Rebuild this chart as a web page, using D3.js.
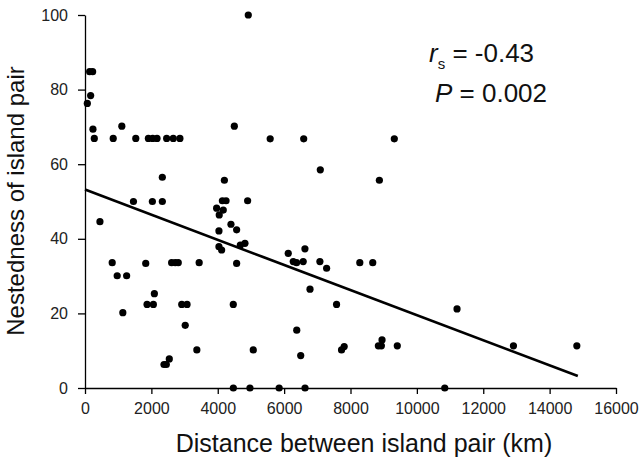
<!DOCTYPE html>
<html>
<head>
<meta charset="utf-8">
<script src="https://cdn.jsdelivr.net/npm/d3@7"></script>
<style>
	body { margin: 0; background: #fff; }
	svg { display: block; font-family: "Liberation Sans", Arial, sans-serif; }
</style>
</head>
<body>
<div id="chart"></div>
<script>
// distance between island pair (km)
var distanceKm = [70, 170, 140, 230, 240, 280,
	850, 1530, 1910, 2040, 2170, 2460, 2660, 2860, 1110, 2330,
	4920, 4500, 5580, 6590, 9320, 7090, 4200, 8870,
	1460, 2030, 2330, 4140, 4250, 4900, 450,
	820, 1830, 2610, 2720, 2810, 3440, 970, 1255, 1140,
	1870, 2060, 2090, 2915, 3075, 3020, 2380, 2450, 2540, 3370,
	3966, 4166, 4045, 4398, 4569, 4036, 4036, 4117, 4680, 4820,
	4569, 4468, 5070,
	4470, 4970, 5850, 6630, 10840,
	6124, 6627, 6275, 6375, 6575, 7078, 7280,
	6780, 6380, 6500, 7580, 8280, 8670, 7730, 7810,
	8840, 8930, 8950, 9410, 11210, 12910, 14820];

// nestedness of island pair
var nestedness = [76.3, 78.4, 84.8, 84.8, 69.4, 66.9,
	66.9, 66.9, 66.9, 66.9, 66.9, 66.9, 66.9, 66.9, 70.2, 56.5,
	100, 70.2, 66.8, 66.8, 66.8, 58.5, 55.7, 55.7,
	50, 50, 50, 50.2, 50.2, 50.2, 44.6,
	33.6, 33.4, 33.6, 33.6, 33.6, 33.6, 30.1, 30.1, 20.2,
	22.4, 22.4, 25.3, 22.4, 22.4, 16.8, 6.3, 6.3, 7.8, 10.2,
	48.2, 47.7, 46.4, 43.9, 42.4, 42.1, 37.9, 37, 38.3, 38.8,
	33.4, 22.4, 10.2,
	0, 0, 0, 0, 0,
	36.1, 37.3, 33.9, 33.6, 33.9, 33.9, 32.1,
	26.5, 15.5, 8.7, 22.4, 33.6, 33.6, 10.2, 11.1,
	11.3, 11.3, 12.9, 11.3, 21.2, 11.3, 11.3];

// fitted line end points
var fitLine = [{ x: 0, y: 53.2 }, { x: 14850, y: 3.2 }];

var xTicks = [0, 2000, 4000, 6000, 8000, 10000, 12000, 14000, 16000];
var yTicks = [0, 20, 40, 60, 80, 100];

var width = 641, height = 464;

var svg = d3.select("#chart").append("svg")
	.attr("width", width).attr("height", height);

var x = d3.scaleLinear().domain([0, 16000]).range([85, 616]);
var y = d3.scaleLinear().domain([0, 100]).range([388, 15]);

// axes
var xAxis = svg.append("g").attr("transform", "translate(0," + y(0) + ")")
	.call(d3.axisBottom(x).tickValues(xTicks).tickFormat(d3.format("d"))
		.tickSize(6).tickSizeOuter(0).tickPadding(9));
var yAxis = svg.append("g").attr("transform", "translate(" + x(0) + ",0)")
	.call(d3.axisLeft(y).tickValues(yTicks).tickSize(7).tickSizeOuter(0)
		.tickPadding(10));

[xAxis, yAxis].forEach(function(ax) {
	ax.select(".domain").attr("stroke", "#000").attr("stroke-width", 1.3);
	ax.selectAll(".tick line").attr("stroke", "#000").attr("stroke-width", 1.3);
	ax.selectAll(".tick text").attr("fill", "#222")
		.style("font-family", "'Liberation Sans', Arial, sans-serif")
		.style("font-size", "16px");
});

// points
var data = distanceKm.map(function(d, i) {
	return { x: d, y: nestedness[i] };
});
svg.append("g").selectAll("circle").data(data).enter().append("circle")
	.attr("cx", function(d) { return x(d.x); })
	.attr("cy", function(d) { return y(d.y); })
	.attr("r", 3.6).attr("fill", "#000");

// regression line
var line = d3.line().x(function(d) { return x(d.x); }).y(function(d) { return y(d.y); });
svg.append("path").attr("d", line(fitLine)).attr("fill", "none")
	.attr("stroke", "#000").attr("stroke-width", 2.6);

// axis titles
svg.append("text").attr("x", 364).attr("y", 452).attr("text-anchor", "middle")
	.style("font-size", "25px").attr("fill", "#111")
	.text("Distance between island pair (km)");
svg.append("text").attr("transform", "translate(24,201) rotate(-90)")
	.attr("text-anchor", "middle").style("font-size", "24px").attr("fill", "#111")
	.text("Nestedness of island pair");

// statistics
var stat1 = svg.append("text").attr("x", 429).attr("y", 62)
	.style("font-size", "26px").attr("fill", "#111");
stat1.append("tspan").style("font-style", "italic").text("r");
stat1.append("tspan").attr("dy", 7).style("font-size", "15px").text("s");
stat1.append("tspan").attr("dy", -7).text(" = -0.43");

var stat2 = svg.append("text").attr("x", 435).attr("y", 102)
	.style("font-size", "26px").attr("fill", "#111");
stat2.append("tspan").style("font-style", "italic").text("P");
stat2.append("tspan").text(" = 0.002");
</script>
</body>
</html>
